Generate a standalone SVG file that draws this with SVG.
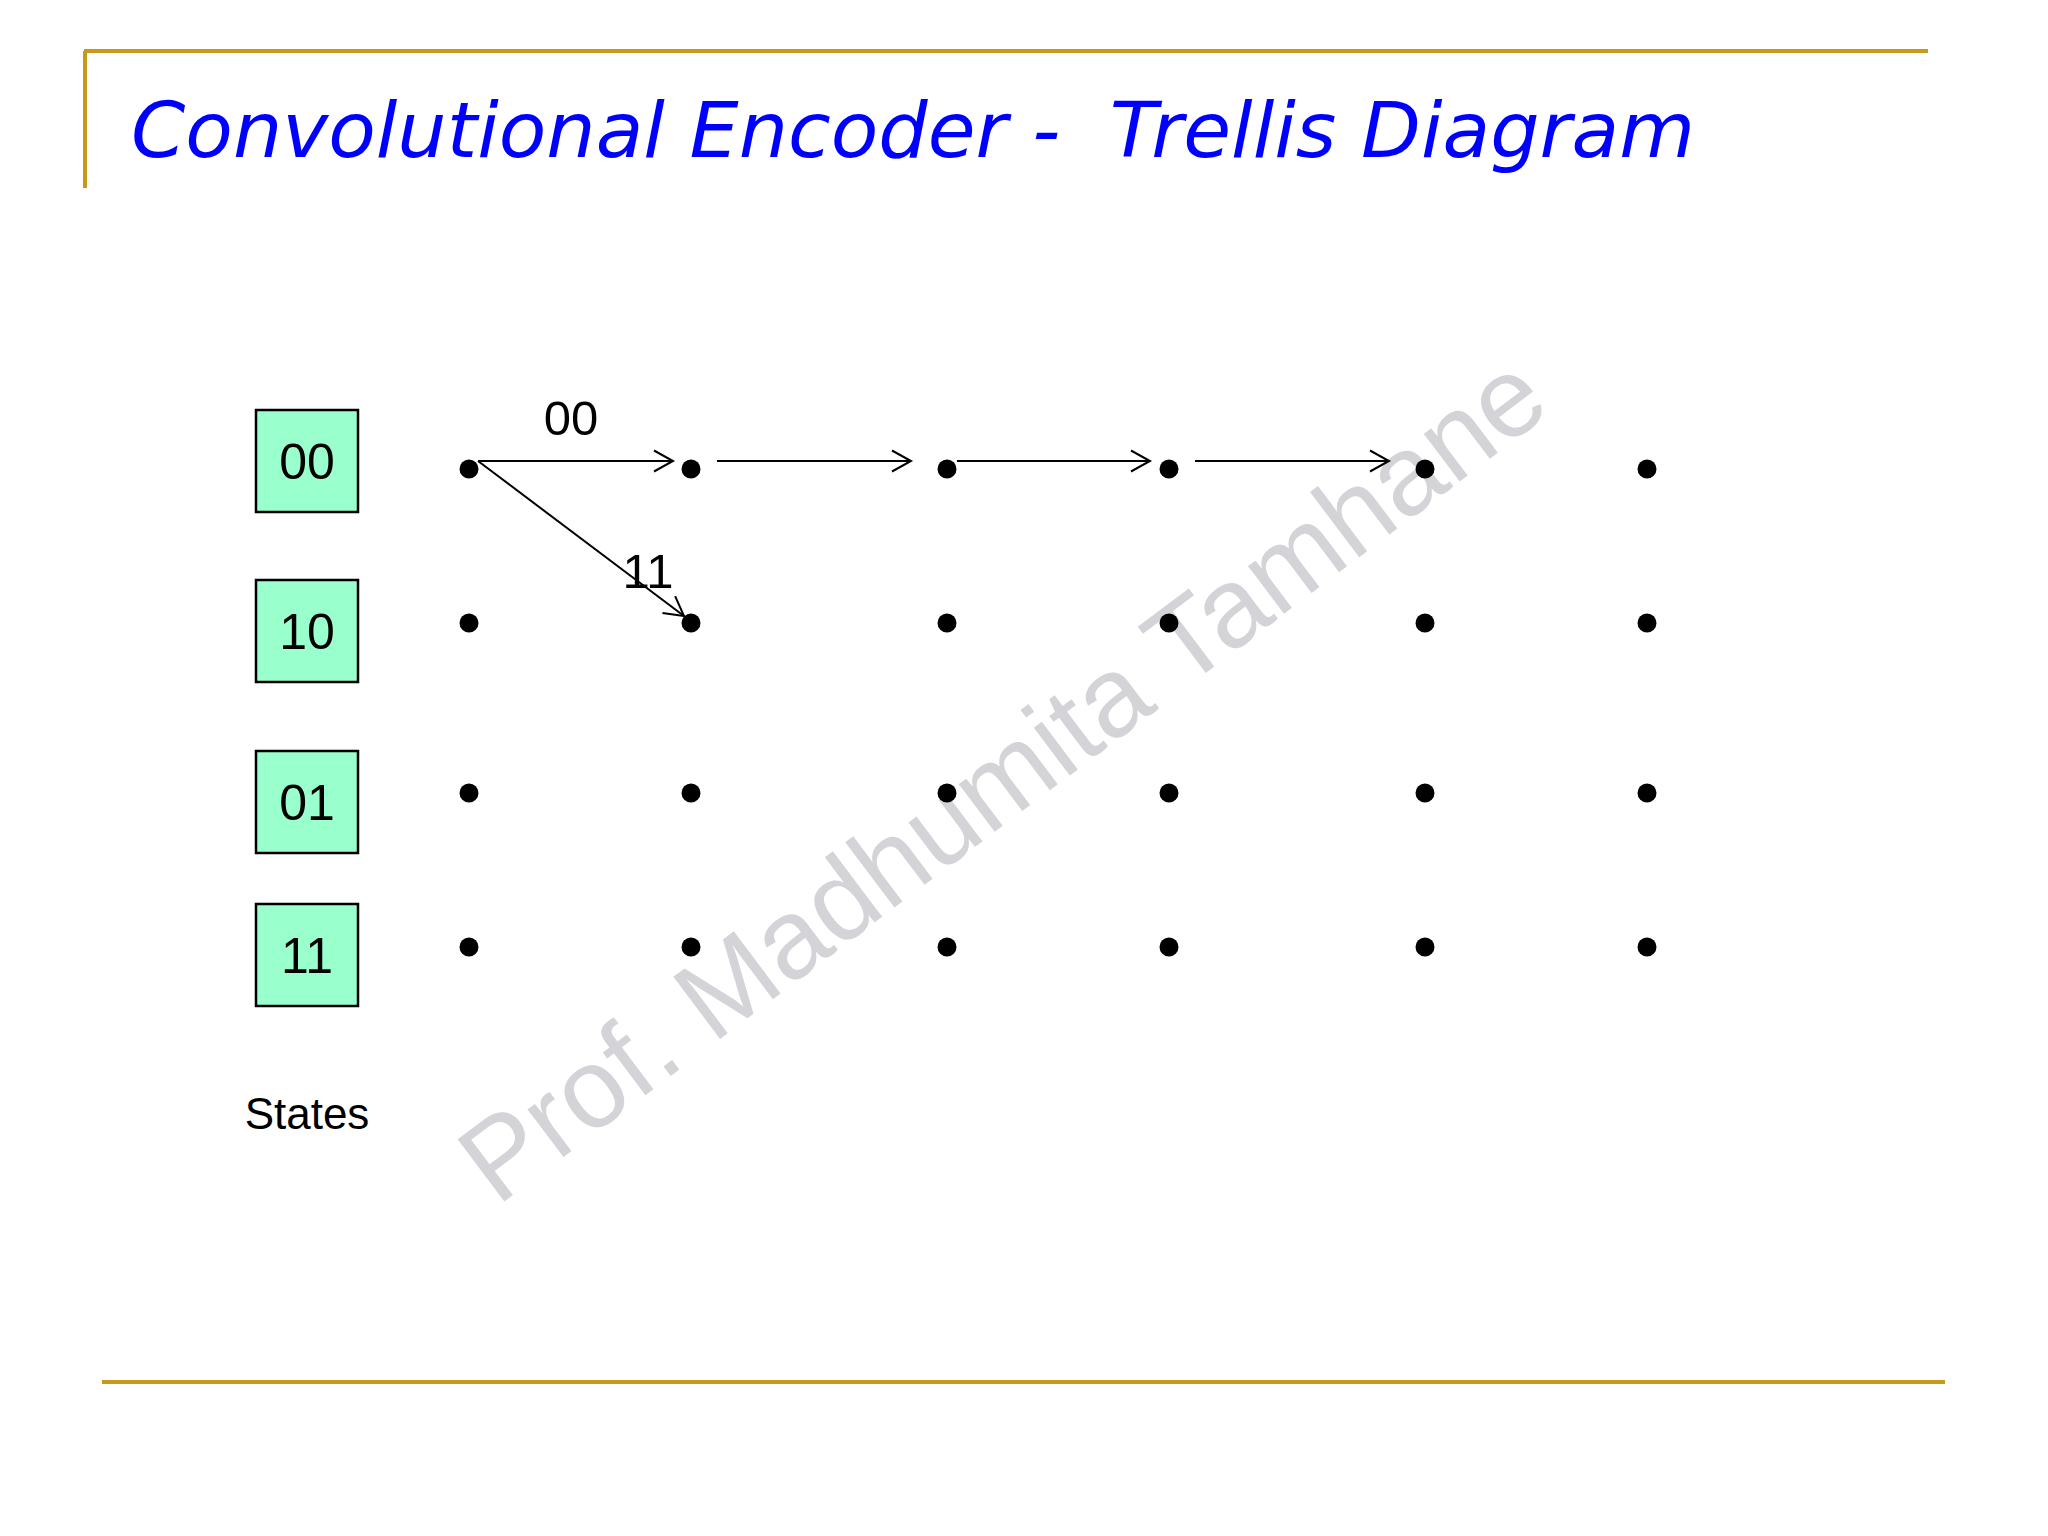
<svg xmlns="http://www.w3.org/2000/svg" width="2048" height="1536" viewBox="0 0 2048 1536">
  <style>
    .gold { stroke: #C9981A; stroke-width: 4; fill: none; }
    .title { font-family: "DejaVu Sans", "Liberation Sans", sans-serif; font-style: italic; font-size: 76px; fill: #0000FF; white-space: pre; }
    .box { fill: #99FFCC; stroke: #000; stroke-width: 2.5; }
    .lbl { font-family: "Liberation Sans", Arial, sans-serif; fill: #000; text-anchor: middle; }
    .dot { fill: #000; }
    .edge { stroke: #000; stroke-width: 2; fill: none; }
    .wm { font-family: "Liberation Sans", Arial, sans-serif; font-size: 113px; fill: #D4D4D8; }
  </style>
  <defs>
    <marker id="arr" markerUnits="userSpaceOnUse" markerWidth="24" markerHeight="26" refX="21" refY="12" orient="auto">
      <path d="M2,1.5 L21,12 L2,22.5" fill="none" stroke="#000" stroke-width="2"/>
    </marker>
  </defs>
  <rect width="2048" height="1536" fill="#FFFFFF"/>

  <!-- watermark -->
  <text class="wm" transform="translate(497,1207) rotate(-37)">Prof. Madhumita Tamhane</text>

  <!-- frame lines -->
  <path class="gold" d="M84,51 L1928,51 M85,51 L85,188"/>
  <path class="gold" d="M102,1382 L1945,1382"/>

  <text class="title" x="131" y="157" textLength="1564" lengthAdjust="spacingAndGlyphs">Convolutional Encoder -  Trellis Diagram</text>

  <!-- state boxes -->
  <g id="state-00"><rect class="box" x="256" y="410" width="102" height="102"/><text class="lbl" x="307" y="479" font-size="50">00</text></g>
  <g id="state-10"><rect class="box" x="256" y="580" width="102" height="102"/><text class="lbl" x="307" y="649" font-size="50">10</text></g>
  <g id="state-01"><rect class="box" x="256" y="751" width="102" height="102"/><text class="lbl" x="307" y="820" font-size="50">01</text></g>
  <g id="state-11"><rect class="box" x="256" y="904" width="102" height="102"/><text class="lbl" x="307" y="973" font-size="50">11</text></g>
  <text class="lbl" x="307" y="1129" font-size="44">States</text>

  <!-- trellis dots -->
  <g id="dots">
    <g id="row-00">
      <circle class="dot" cx="469" cy="469" r="9.5"/><circle class="dot" cx="691" cy="469" r="9.5"/><circle class="dot" cx="947" cy="469" r="9.5"/><circle class="dot" cx="1169" cy="469" r="9.5"/><circle class="dot" cx="1425" cy="469" r="9.5"/><circle class="dot" cx="1647" cy="469" r="9.5"/>
    </g>
    <g id="row-10">
      <circle class="dot" cx="469" cy="623" r="9.5"/><circle class="dot" cx="691" cy="623" r="9.5"/><circle class="dot" cx="947" cy="623" r="9.5"/><circle class="dot" cx="1169" cy="623" r="9.5"/><circle class="dot" cx="1425" cy="623" r="9.5"/><circle class="dot" cx="1647" cy="623" r="9.5"/>
    </g>
    <g id="row-01">
      <circle class="dot" cx="469" cy="793" r="9.5"/><circle class="dot" cx="691" cy="793" r="9.5"/><circle class="dot" cx="947" cy="793" r="9.5"/><circle class="dot" cx="1169" cy="793" r="9.5"/><circle class="dot" cx="1425" cy="793" r="9.5"/><circle class="dot" cx="1647" cy="793" r="9.5"/>
    </g>
    <g id="row-11">
      <circle class="dot" cx="469" cy="947" r="9.5"/><circle class="dot" cx="691" cy="947" r="9.5"/><circle class="dot" cx="947" cy="947" r="9.5"/><circle class="dot" cx="1169" cy="947" r="9.5"/><circle class="dot" cx="1425" cy="947" r="9.5"/><circle class="dot" cx="1647" cy="947" r="9.5"/>
    </g>
  </g>

  <!-- connectors -->
  <g id="connectors">
    <line class="edge" x1="478" y1="461" x2="673" y2="461" marker-end="url(#arr)"/>
    <line class="edge" x1="717" y1="461" x2="911" y2="461" marker-end="url(#arr)"/>
    <line class="edge" x1="957" y1="461" x2="1150" y2="461" marker-end="url(#arr)"/>
    <line class="edge" x1="1195" y1="461" x2="1389" y2="461" marker-end="url(#arr)"/>
    <line class="edge" x1="478" y1="461" x2="684" y2="616" marker-end="url(#arr)"/>
    <text class="lbl" x="571" y="435" font-size="49">00</text>
    <text class="lbl" x="648" y="588" font-size="49">11</text>
  </g>
</svg>
